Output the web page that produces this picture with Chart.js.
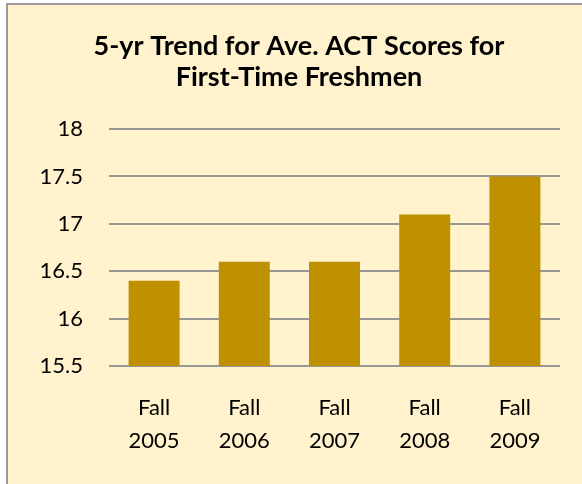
<!DOCTYPE html>
<html>
<head>
<meta charset="utf-8">
<script src="https://cdn.jsdelivr.net/npm/chart.js@4/dist/chart.umd.min.js"></script>
<style>
  html, body { margin: 0; padding: 0; background: #ffffff; overflow: hidden; width: 582px; height: 484px; }
  #frame { position: absolute; left: 6px; top: 3px; width: 590px; height: 490px;
           background: #FFF2CC; border-left: 2px solid #9a9a9a; border-top: 2px solid #9a9a9a; }
  canvas { position: absolute; left: 0; top: 0; }
</style>
</head>
<body>
<div id="frame"><canvas id="c" width="586" height="479"></canvas></div>
<script>
const titleLines = ["5-yr Trend for Ave. ACT Scores for", "First-Time Freshmen"];
const categories = [["Fall", "2005"], ["Fall", "2006"], ["Fall", "2007"], ["Fall", "2008"], ["Fall", "2009"]];
const actScores = [16.4, 16.6, 16.6, 17.1, 17.5];
const yMin = 15.5, yMax = 18, yStep = 0.5;

new Chart(document.getElementById('c'), {
  type: 'bar',
  data: {
    labels: categories,
    datasets: [{
      data: actScores,
      backgroundColor: '#BF9000',
      borderWidth: 0,
      categoryPercentage: 1.0,
      barPercentage: 0.565
    }]
  },
  options: {
    responsive: false,
    animation: false,
    layout: { padding: { left: 30, right: 34, top: 0, bottom: 27 } },
    plugins: {
      legend: { display: false },
      tooltip: { enabled: false },
      title: {
        display: true,
        text: titleLines,
        color: '#000000',
        font: { family: 'Lato', size: 27, weight: 'bold', lineHeight: 1.15 },
        padding: { top: 26, bottom: 36 }
      }
    },
    scales: {
      x: {
        grid: { display: false, drawTicks: false },
        border: { display: false },
        ticks: {
          color: '#000000',
          padding: 25,
          maxRotation: 0,
          font: { family: 'Lato', size: 22, lineHeight: 1.5 }
        },
        afterFit: s => { s.height = 91; }
      },
      y: {
        min: yMin,
        max: yMax,
        grid: { color: '#979797', lineWidth: 2, drawTicks: false },
        border: { display: false },
        ticks: {
          stepSize: yStep,
          color: '#000000',
          padding: 26,
          font: { family: 'Lato', size: 22 },
          callback: v => String(v)
        },
        afterFit: s => { s.width = 71; }
      }
    }
  }
});
</script>
</body>
</html>
